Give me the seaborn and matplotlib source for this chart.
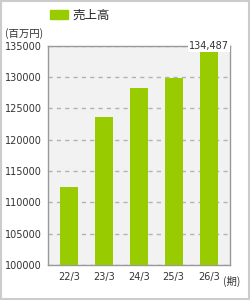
import matplotlib

matplotlib.use("Agg")
import matplotlib.pyplot as plt
import matplotlib.patches as mpatches
import pandas as pd
import seaborn as sns

# Chart data
periods = ["22/3", "23/3", "24/3", "25/3", "26/3"]
sales = [112500, 123600, 128300, 129900, 134487]
y_ticks = [100000, 105000, 110000, 115000, 120000, 125000, 130000, 135000]
series_name = "売上高"
y_unit = "(百万円)"
x_unit = "(期)"
last_label = "134,487"

JP_FONT = ["Noto Sans CJK JP", "DejaVu Sans"]
BAR_COLOR = "#99cc00"

sns.set_style("white")
plt.rcParams["font.family"] = ["DejaVu Sans", "Noto Sans CJK JP"]

df = pd.DataFrame({"period": periods, "sales": sales})

fig = plt.figure(figsize=(2.5, 3.0), dpi=100)
ax = fig.add_axes([0.191, 0.117, 0.729, 0.730])

sns.barplot(data=df, x="period", y="sales", color=BAR_COLOR, width=0.52,
            saturation=1, linewidth=0, ax=ax, zorder=3)

ax.set_facecolor("#f2f2f2")
ax.set_ylim(y_ticks[0], y_ticks[-1])
ax.set_xlim(-0.6, 4.61)
ax.set_yticks(y_ticks)
ax.set_yticklabels([str(v) for v in y_ticks], fontsize=7, color="#333333")
ax.set_xticklabels(periods, fontsize=7, color="#333333")
ax.set_xlabel("")
ax.set_ylabel("")

# dashed gridlines
ax.yaxis.grid(True, color="#b3b3b3", linestyle=(0, (3, 3)), linewidth=1)
ax.set_axisbelow(True)

for side in ["left", "bottom", "top", "right"]:
    ax.spines[side].set_visible(True)
    ax.spines[side].set_color("#999999")
    ax.spines[side].set_linewidth(1)

ax.tick_params(axis="y", length=0, pad=4)
ax.tick_params(axis="x", which="major", length=0, pad=5)
ax.set_xticks([0.5, 1.5, 2.5, 3.5], minor=True)
ax.tick_params(axis="x", which="minor", length=3, color="#999999")

# value label on last bar
ax.text(len(periods) - 1, y_ticks[-1], last_label, ha="center", va="center",
        fontsize=7, color="#333333", zorder=6,
        bbox=dict(facecolor="white", edgecolor="none", pad=0.6))

# legend
handle = mpatches.Patch(color=BAR_COLOR, label=series_name)
fig.legend(handles=[handle], loc="center left", bbox_to_anchor=(0.155, 0.95),
           frameon=False, handlelength=1.4, handleheight=0.75,
           handletextpad=0.4, prop={"family": JP_FONT, "size": 9})

fig.text(0.02, 1 - 34 / 300, y_unit, fontsize=7.5, family=JP_FONT,
         color="#333333", va="center", ha="left")
fig.text(0.89, 1 - 281 / 300, x_unit, fontsize=7.5, family=JP_FONT,
         color="#333333", va="center", ha="left")

# outer frame
fig.patches.append(mpatches.Rectangle((0.003, 0.003), 0.994, 0.994,
                                      transform=fig.transFigure, fill=False,
                                      edgecolor="#cccccc", linewidth=1.5))

fig.savefig("out.png", dpi=100)
